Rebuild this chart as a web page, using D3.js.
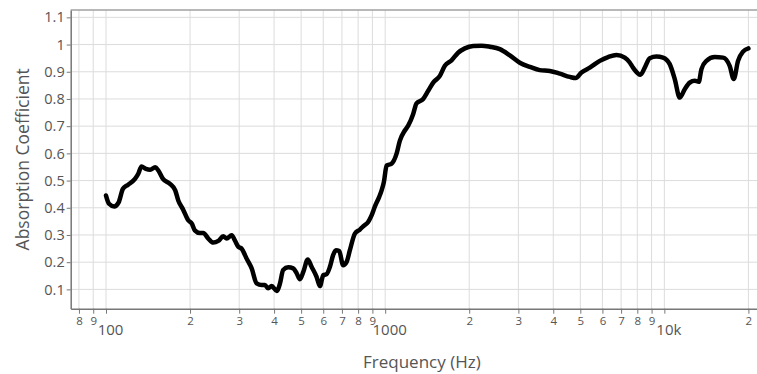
<!DOCTYPE html>
<html>
<head>
<meta charset="utf-8">
<script src="https://cdn.jsdelivr.net/npm/d3@7"></script>
<style>
  body { margin: 0; background: #fff; }
  svg { display: block; }
  text { font-family: "Open Sans", sans-serif; }
</style>
</head>
<body>
<div id="chart"></div>
<script>
// values
const freq = [100, 102.5, 107, 111, 115, 120, 127, 130.5, 134, 139, 144, 150, 154, 160, 169.5, 177,
  181.5, 189, 197, 203, 208, 217, 223, 232.5, 242, 252.5, 263, 270.5, 282, 290, 298, 306, 315, 319,
  332.5, 346.5, 361, 371, 381, 392, 409, 420, 431, 449.5, 468.5, 482, 495, 509, 528, 545, 568, 584,
  600, 617, 634, 651, 666, 684.5, 707, 727.5, 747.5, 779, 812, 834, 869, 894, 919, 952, 971, 989,
  1012, 1054, 1098, 1129, 1176, 1209, 1260, 1295, 1368, 1426, 1486, 1570, 1636, 1729, 1825, 1929,
  2066, 2214, 2371, 2574, 2796, 3036, 3297, 3580, 3888, 4222, 4585, 4817, 5048, 5407, 5871, 6287,
  6738, 7216, 7516, 7723, 8210, 8508, 8866, 9369, 9892, 10454, 10895, 11354, 11832, 12330, 12850,
  13280, 13580, 14150, 15153, 16230, 17147, 17722, 18362, 19135, 20000];
const absorption = [0.445, 0.415, 0.405, 0.42, 0.47, 0.485, 0.506, 0.525, 0.552, 0.543, 0.54, 0.549,
  0.537, 0.506, 0.488, 0.464, 0.427, 0.393, 0.354, 0.342, 0.317, 0.307, 0.307, 0.287, 0.272, 0.278,
  0.295, 0.287, 0.299, 0.278, 0.256, 0.25, 0.225, 0.213, 0.177, 0.122, 0.116, 0.116, 0.104, 0.112,
  0.094, 0.122, 0.171, 0.181, 0.177, 0.159, 0.137, 0.164, 0.21, 0.183, 0.146, 0.112, 0.152, 0.156,
  0.183, 0.226, 0.244, 0.241, 0.189, 0.201, 0.244, 0.305, 0.32, 0.332, 0.348, 0.372, 0.405, 0.44,
  0.464, 0.494, 0.555, 0.562, 0.598, 0.647, 0.684, 0.702, 0.745, 0.784, 0.8, 0.83, 0.86, 0.885,
  0.922, 0.942, 0.97, 0.986, 0.995, 0.996, 0.992, 0.983, 0.96, 0.933, 0.918, 0.906, 0.903, 0.893,
  0.881, 0.877, 0.897, 0.915, 0.94, 0.954, 0.962, 0.952, 0.934, 0.915, 0.889, 0.915, 0.95, 0.956,
  0.952, 0.928, 0.873, 0.805, 0.836, 0.86, 0.867, 0.863, 0.91, 0.94, 0.954, 0.952, 0.921, 0.873,
  0.94, 0.974, 0.986];

const yTicks = [0.1, 0.2, 0.3, 0.4, 0.5, 0.6, 0.7, 0.8, 0.9, 1, 1.1];
const yTickLabels = ["0.1", "0.2", "0.3", "0.4", "0.5", "0.6", "0.7", "0.8", "0.9", "1", "1.1"];
const xTicks = [80, 90, 100, 200, 300, 400, 500, 600, 700, 800, 900, 1000,
  2000, 3000, 4000, 5000, 6000, 7000, 8000, 9000, 10000, 20000];
const xTickLabels = ["8", "9", "100", "2", "3", "4", "5", "6", "7", "8", "9", "1000",
  "2", "3", "4", "5", "6", "7", "8", "9", "10k", "2"];
const decades = [100, 1000, 10000];

const width = 757, height = 374;
const plotLeft = 70.7, plotRight = 773, plotTop = 10, plotBottom = 308.7;

const svg = d3.select("#chart").append("svg")
    .attr("width", width)
    .attr("height", height);

const x = d3.scaleLog().domain([74.74, 24500]).range([plotLeft, plotRight]);
const y = d3.scaleLinear().domain([0.029, 1.127]).range([plotBottom, plotTop]);

// grid
svg.append("g")
    .selectAll("line")
    .data(xTicks)
    .join("line")
      .attr("x1", d => x(d)).attr("x2", d => x(d))
      .attr("y1", plotTop).attr("y2", plotBottom)
      .attr("stroke", "#dcdcdc").attr("stroke-width", 1);
svg.append("g")
    .selectAll("line")
    .data(yTicks)
    .join("line")
      .attr("x1", plotLeft).attr("x2", plotRight)
      .attr("y1", d => y(d)).attr("y2", d => y(d))
      .attr("stroke", "#dcdcdc").attr("stroke-width", 1);

// top border
svg.append("line")
    .attr("x1", plotLeft).attr("x2", plotRight)
    .attr("y1", plotTop).attr("y2", plotTop)
    .attr("stroke", "#a0a0a0").attr("stroke-width", 1.5);

// x axis
const xAxis = svg.append("g")
    .attr("transform", `translate(0,${plotBottom})`)
    .call(d3.axisBottom(x).tickValues(xTicks).tickSize(5).tickSizeOuter(0)
      .tickFormat((d, i) => xTickLabels[i]));
xAxis.select(".domain").attr("stroke", "#777").attr("stroke-width", 1.5);
xAxis.selectAll(".tick line").attr("stroke", "#777");
xAxis.selectAll(".tick text")
    .attr("fill", "#555")
    .attr("font-size", 11.5)
    .attr("y", 8)
    .attr("dy", "0.71em");
xAxis.selectAll(".tick text")
    .filter(d => decades.includes(d))
    .attr("font-size", 15)
    .attr("x", 4)
    .attr("y", 16);

// y axis
const yAxis = svg.append("g")
    .attr("transform", `translate(${plotLeft},0)`)
    .call(d3.axisLeft(y).tickValues(yTicks).tickSize(4).tickSizeOuter(0)
      .tickFormat((d, i) => yTickLabels[i]));
yAxis.select(".domain").attr("stroke", "#777").attr("stroke-width", 1.5);
yAxis.selectAll(".tick line").attr("stroke", "#777");
yAxis.selectAll(".tick text")
    .attr("fill", "#555")
    .attr("font-size", 14.5)
    .attr("x", -6);

// titles
svg.append("text")
    .attr("x", (plotLeft + plotRight) / 2)
    .attr("y", 368)
    .attr("text-anchor", "middle")
    .attr("font-size", 17)
    .attr("fill", "#555")
    .text("Frequency (Hz)");
svg.append("text")
    .attr("transform", `translate(29,${(plotTop + plotBottom) / 2}) rotate(-90)`)
    .attr("text-anchor", "middle")
    .attr("font-size", 17.5)
    .attr("fill", "#555")
    .text("Absorption Coefficient");

// curve
const line = d3.line()
    .x((d, i) => x(freq[i]))
    .y(d => y(d))
    .curve(d3.curveMonotoneX);
svg.append("path")
    .datum(absorption)
    .attr("fill", "none")
    .attr("stroke", "#000")
    .attr("stroke-width", 4.5)
    .attr("stroke-linejoin", "round")
    .attr("stroke-linecap", "round")
    .attr("d", line);
</script>
</body>
</html>
